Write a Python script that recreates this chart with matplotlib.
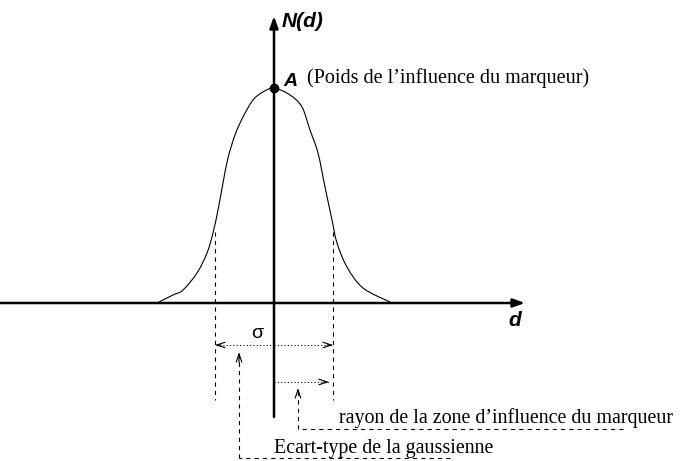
import matplotlib
matplotlib.use("Agg")
import matplotlib.pyplot as plt
from matplotlib.path import Path
from matplotlib.patches import PathPatch

plt.rcParams["lines.scale_dashes"] = False

# profile of the bump, d = distance to the marker, n = N(d)
curve_d = [-117, -101, -91, -77, -67, -61, -56, -51, -46, -39, -31, -21, -11, 0,
           16, 28, 36, 44, 51, 58, 63, 73, 89, 116]
curve_n = [0, 8, 13, 30, 50, 70, 93, 120, 145, 168, 186, 203, 211, 215,
           208, 196, 173, 150, 116, 83, 60, 36, 15, 1]
peak_n = 215
sigma_d = 59
sigma_n = 71

label_y = "N(d)"
label_x = "d"
label_peak = "A"
text_peak = "(Poids de l\u2019influence du marqueur)"
text_radius = "rayon de la zone d\u2019influence du marqueur"
text_sigma = "Ecart-type de la gaussienne"

sans = "Liberation Sans"
serif = "Liberation Serif"
dash = (0, (3.0, 3.0))
dots = (0, (0.8, 1.6))

fig = plt.figure(figsize=(6.83, 4.61), dpi=100)
ax = fig.add_axes([0, 0, 1, 1])
ax.set_xlim(-274, 409)
ax.set_ylim(-158, 303)
ax.axis("off")

# axes with arrows
ax.annotate("", xy=(251, 0), xytext=(-275, 0),
            arrowprops=dict(arrowstyle="-|>,head_length=0.7,head_width=0.25",
                            lw=1.8, color="black", shrinkA=0, shrinkB=0))
ax.annotate("", xy=(0, 287), xytext=(0, -114),
            arrowprops=dict(arrowstyle="-|>,head_length=0.7,head_width=0.25",
                            lw=1.8, color="black", shrinkA=0, shrinkB=0))

# the curve, drawn as a smooth spline through the read points
pts = list(zip(curve_d, curve_n))
verts = [pts[0]]
codes = [Path.MOVETO]
for i in range(len(pts) - 1):
    p0 = pts[i - 1] if i > 0 else pts[i]
    p1 = pts[i]
    p2 = pts[i + 1]
    p3 = pts[i + 2] if i + 2 < len(pts) else pts[i + 1]
    c1 = (p1[0] + (p2[0] - p0[0]) / 6, p1[1] + (p2[1] - p0[1]) / 6)
    c2 = (p2[0] - (p3[0] - p1[0]) / 6, p2[1] - (p3[1] - p1[1]) / 6)
    verts += [c1, c2, p2]
    codes += [Path.CURVE4] * 3
ax.add_patch(PathPatch(Path(verts, codes), fill=False, lw=0.8, color="black"))
ax.plot([0], [peak_n], "o", color="black", ms=6)

# sigma verticals
for s in (-sigma_d, sigma_d):
    ax.plot([s, s], [sigma_n, -97], color="black", lw=0.8, ls=dash)

def open_arrow(x0, y0, x1, y1, ls):
    ax.plot([x0, x1], [y0, y1], color="black", lw=0.8, ls=ls)
    ax.annotate("", xy=(x1, y1), xytext=(x0 + (x1 - x0) * 0.9, y0 + (y1 - y0) * 0.9),
                arrowprops=dict(arrowstyle="->,head_length=0.6,head_width=0.2",
                                lw=0.8, color="black", shrinkA=0, shrinkB=0))

# sigma double arrow
open_arrow(0, -42, -sigma_d, -42, dots)
open_arrow(0, -42, sigma_d, -42, dots)
# radius arrow
open_arrow(0, -79, 55, -79, dots)

# leader lines
ax.plot([349, 24], [-126, -126], color="black", lw=0.8, ls=dash)
open_arrow(24, -126, 24, -85, dash)
ax.plot([176, -35], [-155, -155], color="black", lw=0.8, ls=dash)
open_arrow(-35, -155, -35, -49, dash)

# labels
ax.text(8, 281, label_y, family=sans, weight="bold", style="italic",
        fontsize=15, ha="left", va="center")
ax.text(9, 221, label_peak, family=sans, weight="bold", style="italic",
        fontsize=14, ha="left", va="center")
ax.text(241, -17, label_x, family=sans, weight="bold", style="italic",
        fontsize=15, ha="center", va="center")
ax.text(-17, -31, "\u03c3", family=sans, fontsize=14, ha="center", va="center")
ax.text(33, 220, text_peak, family=serif, fontsize=14.5, ha="left", va="baseline")
ax.text(65, -120, text_radius, family=serif, fontsize=14.4, ha="left", va="baseline")
ax.text(0, -150, text_sigma, family=serif, fontsize=14.4, ha="left", va="baseline")

fig.savefig("out.png", dpi=100)
